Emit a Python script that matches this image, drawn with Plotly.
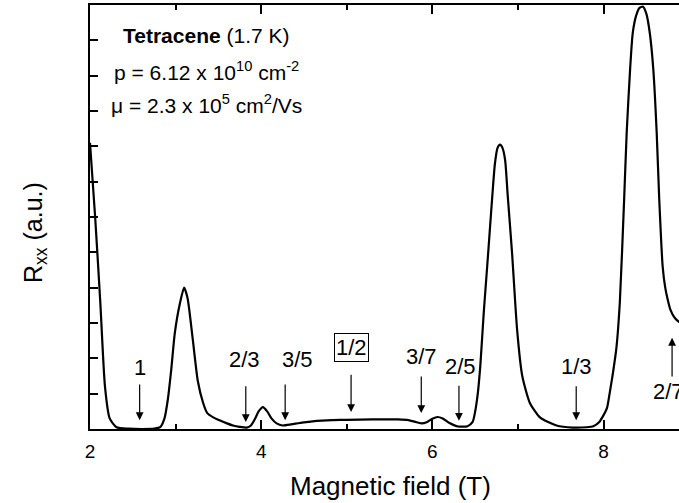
import plotly.graph_objects as go

# Magnetic field (T) and Rxx (a.u.)
field_T = [2.0, 2.06, 2.12, 2.175, 2.23, 2.31, 2.45, 2.6, 2.75, 2.82, 2.87, 2.91, 2.95, 2.99,
           3.05, 3.10, 3.14, 3.20, 3.26, 3.32, 3.37, 3.44, 3.52, 3.60, 3.67, 3.75, 3.83, 3.88,
           3.93, 3.97, 4.02, 4.07, 4.12, 4.18, 4.25, 4.35, 4.45, 4.55, 4.65, 4.84, 5.0, 5.3,
           5.6, 5.72, 5.8, 5.87, 5.94, 6.0, 6.06, 6.12, 6.2, 6.3, 6.41, 6.47, 6.5, 6.53, 6.56,
           6.6, 6.64, 6.67, 6.70, 6.73, 6.76, 6.79, 6.82, 6.85, 6.88, 6.93, 6.99, 7.05, 7.14,
           7.26, 7.45, 7.64, 7.8, 7.88, 7.95, 7.99, 8.04, 8.07, 8.11, 8.15, 8.19, 8.24, 8.27,
           8.31, 8.34, 8.38, 8.42, 8.46, 8.50, 8.54, 8.58, 8.62, 8.65, 8.69, 8.72, 8.75, 8.78,
           8.83, 8.9, 8.95]
rxx = [8.1, 6.0, 3.6, 1.2, 0.3, 0.05, 0.01, 0.0, 0.01, 0.05, 0.3, 0.85, 1.7, 2.7,
       3.55, 4.0, 3.7, 2.55, 1.35, 0.75, 0.45, 0.33, 0.24, 0.16, 0.1, 0.06, 0.04, 0.1,
       0.3, 0.5, 0.62, 0.5, 0.3, 0.16, 0.1, 0.13, 0.17, 0.2, 0.23, 0.25, 0.26, 0.27,
       0.27, 0.25, 0.2, 0.16, 0.2, 0.29, 0.34, 0.3, 0.17, 0.07, 0.08, 0.2, 0.5, 1.0, 1.8,
       3.3, 4.6, 5.6, 6.6, 7.5, 7.95, 8.05, 7.95, 7.6, 6.6, 5.0, 2.8, 1.5, 0.73,
       0.32, 0.1, 0.04, 0.05, 0.08, 0.2, 0.35, 0.6, 1.0, 1.6, 2.3, 3.6, 6.5, 8.4,
       10.2, 11.2, 11.7, 11.92, 11.95, 11.75, 11.2, 10.2, 8.4, 6.5, 4.6, 4.0, 3.65, 3.38,
       3.15, 3.0, 2.95]

# filling-factor markers: label, field position, arrow tip, arrow tail, label position
nu_labels = ["1", "2/3", "3/5", "1/2", "3/7", "2/5", "1/3", "2/7"]
nu_field = [2.58, 3.82, 4.28, 5.05, 5.87, 6.31, 7.68, 8.80]
nu_label_x = [2.58, 3.81, 4.42, 5.05, 5.87, 6.33, 7.68, 8.76]
nu_tip = [0.25, 0.2, 0.25, 0.48, 0.45, 0.23, 0.25, 2.58]
nu_tail = [1.3, 1.25, 1.3, 1.58, 1.53, 1.27, 1.25, 1.44]
nu_label_y = [1.75, 1.98, 1.96, 2.32, 2.04, 1.78, 1.78, 1.05]

FONT = "Liberation Sans, Arial, sans-serif"

L, R, T, B = 90, 0, 5, 74
W, H = 679, 503
pw, ph = W - L - R, H - T - B


def px(xp):
    return (xp - L) / pw


def py(yp):
    return (H - yp - B) / ph


fig = go.Figure()
fig.add_trace(go.Scatter(x=field_T, y=rxx, mode="lines",
                         line=dict(color="black", width=2.2, shape="spline", smoothing=0.6),
                         showlegend=False, hoverinfo="skip"))

annotations = []
for lab, xf, xl, tip, tail, ly in zip(nu_labels, nu_field, nu_label_x, nu_tip, nu_tail, nu_label_y):
    annotations.append(dict(x=xf, y=tip, ax=xf, ay=tail, axref="x", ayref="y",
                            xref="x", yref="y", text="", showarrow=True,
                            arrowhead=2, arrowsize=1.3, arrowwidth=1.2, arrowcolor="black"))
    box = lab == "1/2"
    annotations.append(dict(x=xl, y=ly, xref="x", yref="y", text=lab, showarrow=False,
                            font=dict(family=FONT, size=22, color="black"),
                            bordercolor="black" if box else None,
                            borderwidth=1 if box else 0, borderpad=1,
                            xanchor="center", yanchor="middle"))

text_block = [
    ("<b>Tetracene</b> (1.7 K)", 35),
    ("p = 6.12 x 10<sup>10</sup> cm<sup>-2</sup>", 71),
    ("μ = 2.3 x 10<sup>5</sup> cm<sup>2</sup>/Vs", 104),
]
for txt, yp in text_block:
    annotations.append(dict(x=px(206), y=py(yp), xref="paper", yref="paper", text=txt,
                            showarrow=False, xanchor="center", yanchor="middle",
                            font=dict(family=FONT, size=21, color="black")))

annotations += [
    dict(x=px(390), y=py(486), xref="paper", yref="paper",
         text="Magnetic field (T)", showarrow=False, xanchor="center", yanchor="middle",
         font=dict(family=FONT, size=26, color="black")),
    dict(x=px(35), y=py(232), xref="paper", yref="paper",
         text="R<sub>xx</sub> (a.u.)", showarrow=False, textangle=-90,
         xanchor="center", yanchor="middle",
         font=dict(family=FONT, size=25, color="black")),
]

fig.update_layout(
    width=W, height=H,
    margin=dict(l=L, r=R, t=T, b=B, pad=0),
    paper_bgcolor="white", plot_bgcolor="white",
    annotations=annotations,
    xaxis=dict(range=[2, 2 + pw / 85.6], showgrid=False, zeroline=False,
               showline=True, linecolor="black", linewidth=2, mirror="ticks",
               ticks="inside", ticklen=9, tickwidth=1.5, tickcolor="black",
               tickvals=[2, 4, 6, 8], ticktext=["2", "4", "6", "8"],
               ticklabelstandoff=4,
               minor=dict(tickvals=[3, 5, 7], ticks="inside", ticklen=5,
                          tickwidth=1.5, tickcolor="black", showgrid=False),
               tickfont=dict(family=FONT, size=19, color="black")),
    yaxis=dict(range=[0, 12], showgrid=False, zeroline=False,
               showline=True, linecolor="black", linewidth=2, mirror=False,
               ticks="inside", ticklen=8, tickwidth=1.5, tickcolor="black",
               dtick=1, showticklabels=False),
)

fig.write_html("out.html")
